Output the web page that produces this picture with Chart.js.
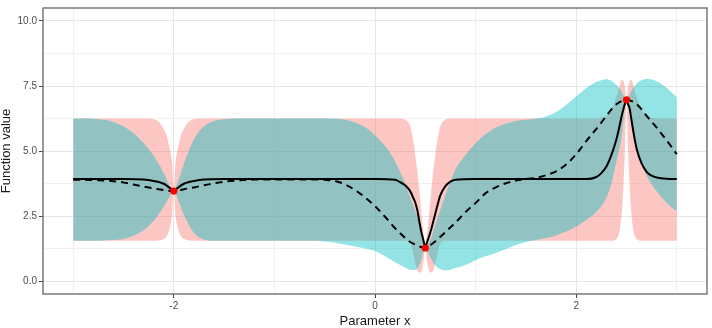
<!DOCTYPE html>
<html lang="en">
<head>
<meta charset="utf-8">
<title>GP fits</title>
<script src="https://cdn.jsdelivr.net/npm/chart.js@4.4.1/dist/chart.umd.min.js"></script>
<style>
  html, body { margin: 0; padding: 0; background: #ffffff; }
  #wrap { width: 712px; height: 328px; }
</style>
</head>
<body>
<div id="wrap"><canvas id="gpChart" width="712" height="328"></canvas></div>
<script>
// Observed points (red dots)
const obsX = [-2.0, 0.5, 2.5];
const obsY = [3.46, 1.27, 6.97];

// Smooth model (cyan band + dashed mean)
const cyanX = [
  -3.0, -2.9, -2.8, -2.7, -2.6, -2.5, -2.4, -2.3, -2.2, -2.1,
  -2.05, -2.0, -1.95, -1.9, -1.8, -1.7, -1.6, -1.5, -1.4, -1.3,
  -1.2, -1.1, -1.0, -0.9, -0.8, -0.7, -0.6, -0.5, -0.4, -0.3,
  -0.2, -0.1, 0.0, 0.1, 0.2, 0.3, 0.35, 0.4, 0.45, 0.5,
  0.55, 0.6, 0.65, 0.7, 0.8, 0.9, 1.0, 1.1, 1.2, 1.3,
  1.4, 1.5, 1.6, 1.7, 1.8, 1.9, 2.0, 2.1, 2.2, 2.3,
  2.35, 2.4, 2.45, 2.5, 2.55, 2.6, 2.65, 2.7, 2.8, 2.9,
  3.0
];
const cyanLower = [
  1.55, 1.55, 1.55, 1.56, 1.58, 1.62, 1.74, 1.95, 2.32, 2.86,
  3.18, 3.46, 3.05, 2.55, 1.85, 1.6, 1.55, 1.55, 1.55, 1.55,
  1.55, 1.55, 1.55, 1.55, 1.55, 1.55, 1.55, 1.52, 1.47, 1.4,
  1.33, 1.25, 1.15, 0.95, 0.72, 0.52, 0.43, 0.42, 0.7, 1.27,
  0.9, 0.6, 0.45, 0.4, 0.5, 0.62, 0.8, 0.95, 1.08, 1.22,
  1.38, 1.5, 1.58, 1.65, 1.75, 1.9, 2.1, 2.35, 2.65, 3.2,
  3.75, 4.6, 5.5, 6.97, 6.05, 5.1, 4.5, 4.05, 3.45, 3.0,
  2.67
];
const cyanUpper = [
  6.25, 6.25, 6.24, 6.2, 6.12, 5.95, 5.68, 5.3, 4.82, 4.15,
  3.72, 3.46, 3.92, 4.5, 5.45, 5.95, 6.15, 6.22, 6.25, 6.25,
  6.25, 6.25, 6.25, 6.25, 6.25, 6.25, 6.25, 6.25, 6.24, 6.2,
  6.1, 5.92, 5.6, 5.2, 4.6, 3.75, 3.2, 2.7, 2.05, 1.27,
  1.6, 2.15, 2.75, 3.3, 4.3, 4.85, 5.3, 5.65, 5.9, 6.05,
  6.15, 6.2, 6.25, 6.33, 6.5, 6.78, 7.1, 7.42, 7.65, 7.76,
  7.7, 7.55, 7.3, 6.97, 7.33, 7.6, 7.72, 7.78, 7.68, 7.42,
  7.07
];
const dashedMean = [
  3.89, 3.89, 3.88, 3.87, 3.84, 3.79, 3.71, 3.63, 3.56, 3.5,
  3.47, 3.46, 3.49, 3.53, 3.6, 3.68, 3.76, 3.82, 3.86, 3.88,
  3.9, 3.9, 3.9, 3.9, 3.9, 3.9, 3.9, 3.89, 3.85, 3.72,
  3.5, 3.22, 2.88, 2.47, 2.03, 1.66, 1.5, 1.4, 1.32, 1.27,
  1.38, 1.53, 1.7, 1.88, 2.25, 2.65, 3.0, 3.38, 3.6, 3.76,
  3.86, 3.92, 3.97, 4.07, 4.22, 4.48, 4.88, 5.38, 5.85, 6.35,
  6.6, 6.8, 6.92, 6.97, 6.92, 6.8, 6.6, 6.35, 5.9, 5.4,
  4.88
];

// Wiggly model (pink band + solid mean), denser near the observations
const pinkX = [
  -3.0, -2.5, -2.3, -2.2, -2.15, -2.1, -2.07, -2.05, -2.03, -2.015,
  -2.0, -1.985, -1.97, -1.95, -1.93, -1.9, -1.85, -1.8, -1.7, -1.5,
  -1.0, -0.5, 0.0, 0.2, 0.25, 0.3, 0.35, 0.38, 0.4, 0.42,
  0.44, 0.46, 0.48, 0.49, 0.5, 0.51, 0.52, 0.54, 0.56, 0.58,
  0.6, 0.62, 0.65, 0.7, 0.75, 0.8, 1.0, 1.5, 2.0, 2.1,
  2.2, 2.25, 2.3, 2.35, 2.4, 2.43, 2.455, 2.47, 2.485, 2.5,
  2.515, 2.53, 2.545, 2.57, 2.6, 2.65, 2.7, 2.75, 2.8, 2.9,
  3.0
];
const pinkLower = [
  1.55, 1.55, 1.55, 1.55, 1.56, 1.62, 1.72, 1.9, 2.2, 2.6,
  3.46, 2.6, 2.2, 1.9, 1.72, 1.62, 1.56, 1.55, 1.55, 1.55,
  1.55, 1.55, 1.55, 1.55, 1.55, 1.55, 1.45, 1.05, 0.7, 0.42,
  0.33, 0.36, 0.7, 1.0, 1.27, 1.0, 0.7, 0.36, 0.33, 0.42,
  0.7, 1.05, 1.45, 1.55, 1.55, 1.55, 1.55, 1.55, 1.55, 1.55,
  1.55, 1.55, 1.55, 1.55, 1.62, 1.9, 2.75, 3.75, 5.1, 6.97,
  5.1, 3.75, 2.75, 1.9, 1.62, 1.55, 1.55, 1.55, 1.55, 1.55,
  1.55
];
const pinkUpper = [
  6.25, 6.25, 6.25, 6.22, 6.12, 5.85, 5.58, 5.25, 4.9, 4.45,
  3.46, 4.45, 4.9, 5.25, 5.58, 5.85, 6.12, 6.22, 6.25, 6.25,
  6.25, 6.25, 6.25, 6.25, 6.25, 6.2, 5.95, 5.4, 4.85, 4.25,
  3.5, 2.65, 1.9, 1.6, 1.27, 1.6, 1.9, 2.65, 3.5, 4.25,
  4.85, 5.4, 5.95, 6.2, 6.25, 6.25, 6.25, 6.25, 6.25, 6.25,
  6.25, 6.28, 6.35, 6.6, 7.1, 7.5, 7.74, 7.68, 7.42, 6.97,
  7.42, 7.68, 7.74, 7.5, 7.1, 6.6, 6.35, 6.28, 6.25, 6.25,
  6.25
];
const solidMean = [
  3.92, 3.92, 3.9, 3.85, 3.81, 3.74, 3.67, 3.61, 3.55, 3.5,
  3.46, 3.5, 3.55, 3.61, 3.67, 3.74, 3.81, 3.85, 3.9, 3.92,
  3.92, 3.92, 3.92, 3.89, 3.8, 3.68, 3.45, 3.2, 3.02, 2.74,
  2.3, 1.9, 1.58, 1.42, 1.27, 1.4, 1.52, 1.75, 2.0, 2.3,
  2.6, 2.9, 3.3, 3.65, 3.82, 3.89, 3.92, 3.92, 3.92, 3.92,
  4.0, 4.15, 4.4, 4.85, 5.45, 5.95, 6.4, 6.62, 6.82, 6.97,
  6.8, 6.65, 6.3, 5.7, 5.1, 4.52, 4.2, 4.05, 3.98, 3.93,
  3.92
];

// Axis ticks: grid at every value, labels only on the major ones
const xGridVals = [-3, -2, -1, 0, 1, 2, 3];
const xLabelVals = [-2, 0, 2];
const yGridVals = [0, 1.25, 2.5, 3.75, 5, 6.25, 7.5, 8.75, 10];
const yLabelVals = [0, 2.5, 5, 7.5, 10];
const yTickLabels = ['0.0', '2.5', '5.0', '7.5', '10.0'];

const PINK_FILL = 'rgba(248, 118, 109, 0.42)';
const CYAN_FILL = 'rgba(0, 191, 196, 0.42)';
const FONT = '"Liberation Sans", Arial, Helvetica, sans-serif';

// pair x and y arrays into chart points
function toPoints(xs, ys) {
    return xs.map((x, i) => ({ x: x, y: ys[i] }));
}

function bandEdge(xs, ys, fill, color) {
    return {
        data: toPoints(xs, ys),
        borderWidth: 0,
        borderColor: 'transparent',
        backgroundColor: color,
        pointRadius: 0,
        fill: fill,
        cubicInterpolationMode: 'monotone'
    };
}

// ggplot-like panel border, drawn over everything
const panelBorder = {
    id: 'panelBorder',
    afterDraw(chart) {
        const { ctx, chartArea: a } = chart;
        ctx.save();
        ctx.strokeStyle = '#6f6f6f';
        ctx.lineWidth = 1.4;
        ctx.strokeRect(a.left, a.top, a.right - a.left, a.bottom - a.top);
        ctx.restore();
    }
};

function gridColor(majors) {
    return (c) => (c.tick && majors.includes(c.tick.value)) ? '#e6e6e6' : '#f0f0f0';
}

function tickColor(majors) {
    return (c) => (c.tick && majors.includes(c.tick.value)) ? '#444444' : 'rgba(0,0,0,0)';
}

const ctx = document.getElementById('gpChart');

new Chart(ctx, {
    type: 'line',
    data: {
        datasets: [
            {
                data: toPoints(obsX, obsY),
                showLine: false,
                pointRadius: 3.6,
                pointBackgroundColor: '#ff0000',
                pointBorderColor: '#ff0000',
                pointBorderWidth: 0
            },
            {
                data: toPoints(pinkX, solidMean),
                borderColor: '#000000',
                borderWidth: 2,
                pointRadius: 0,
                fill: false,
                cubicInterpolationMode: 'monotone'
            },
            {
                data: toPoints(cyanX, dashedMean),
                borderColor: '#000000',
                borderWidth: 2,
                borderDash: [7, 5],
                pointRadius: 0,
                fill: false,
                cubicInterpolationMode: 'monotone'
            },
            bandEdge(cyanX, cyanUpper, '+1', CYAN_FILL),
            bandEdge(cyanX, cyanLower, false, CYAN_FILL),
            bandEdge(pinkX, pinkUpper, '+1', PINK_FILL),
            bandEdge(pinkX, pinkLower, false, PINK_FILL)
        ]
    },
    options: {
        responsive: false,
        animation: false,
        devicePixelRatio: 1,
        layout: { padding: { top: 7, right: 5, left: 0, bottom: 0 } },
        plugins: {
            legend: { display: false },
            tooltip: { enabled: false }
        },
        scales: {
            x: {
                type: 'linear',
                min: -3.3,
                max: 3.3,
                afterBuildTicks: (scale) => { scale.ticks = xGridVals.map(v => ({ value: v })); },
                afterFit: (scale) => { scale.height = 34; },
                border: { display: false },
                grid: {
                    color: gridColor(xLabelVals),
                    tickColor: tickColor(xLabelVals),
                    tickLength: 4,
                    lineWidth: 1
                },
                ticks: {
                    autoSkip: false,
                    maxRotation: 0,
                    padding: 2,
                    color: '#4d4d4d',
                    font: { family: FONT, size: 10 },
                    callback: (v) => xLabelVals.includes(v) ? String(v) : ''
                },
                title: {
                    display: true,
                    text: 'Parameter x',
                    color: '#1a1a1a',
                    padding: { top: 0, bottom: 0 },
                    font: { family: FONT, size: 13, lineHeight: 1 }
                }
            },
            y: {
                type: 'linear',
                min: -0.5,
                max: 10.5,
                afterBuildTicks: (scale) => { scale.ticks = yGridVals.map(v => ({ value: v })); },
                afterFit: (scale) => { scale.width = 43; },
                border: { display: false },
                grid: {
                    color: gridColor(yLabelVals),
                    tickColor: tickColor(yLabelVals),
                    tickLength: 4,
                    lineWidth: 1
                },
                ticks: {
                    autoSkip: false,
                    padding: 2,
                    color: '#4d4d4d',
                    font: { family: FONT, size: 10 },
                    callback: (v) => {
                        const i = yLabelVals.indexOf(v);
                        return i >= 0 ? yTickLabels[i] : '';
                    }
                },
                title: {
                    display: true,
                    text: 'Function value',
                    color: '#1a1a1a',
                    padding: { top: 0, bottom: 0 },
                    font: { family: FONT, size: 13, lineHeight: 1 }
                }
            }
        }
    },
    plugins: [panelBorder]
});
</script>
</body>
</html>
